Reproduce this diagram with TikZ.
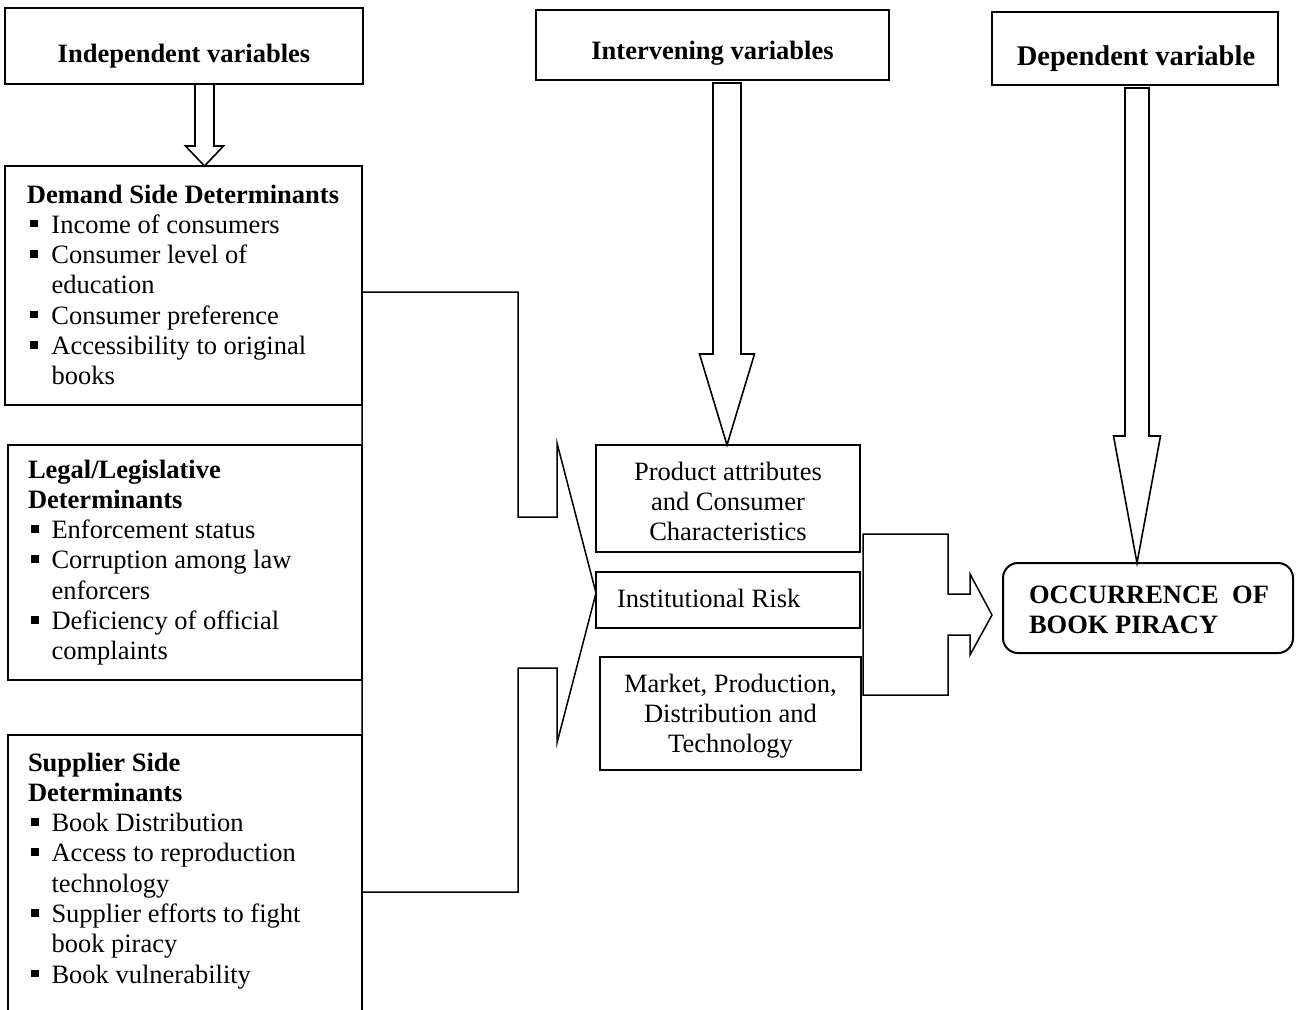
\documentclass[tikz,border=0pt]{standalone}
\usepackage{fontspec}
\setmainfont{Liberation Serif}
\usetikzlibrary{calc}
\newcommand\sqbul{\rule[6pt]{7.5pt}{7.5pt}}
\newcommand\hdr[1]{\multicolumn{2}{@{}l@{}}{\bfseries #1}}
\newcommand\downblock[5]{%
  \draw[blockarr] ($(#1)+(-#3,0)$) -- ($(#2)+(-#3,-#5)$) -- ($(#2)+(-#4,-#5)$) -- (#2)
    -- ($(#2)+(#4,-#5)$) -- ($(#2)+(#3,-#5)$) -- ($(#1)+(#3,0)$) -- cycle;}
\begin{document}
\begin{tikzpicture}[x=1pt,y=-1pt,
  box/.style={draw, line width=2pt, inner sep=0pt, outer sep=0pt},
  txt/.style={inner sep=0pt, outer sep=0pt, font=\fontsize{26.5}{30.3}\selectfont},
  btxt/.style={txt, font=\fontsize{26.5}{30.3}\selectfont\bfseries},
  blockarr/.style={draw, line width=1.6pt, line join=miter, fill=white},
  bracket/.style={draw, line width=1.5pt, line join=miter}]
\useasboundingbox (0,0) rectangle (1298,1009);
\clip (0,0) rectangle (1298,1009);

% boxes
\node[box, minimum width=358pt, minimum height=76pt] (indep) at (184,46) {};
\node[box, minimum width=357pt, minimum height=239pt] (demand) at (183.5,285.5) {};
\node[box, minimum width=354pt, minimum height=235pt] (legal) at (185,562.5) {};
\node[box, minimum width=354pt, minimum height=290pt] (supplier) at (185,880) {};
\node[box, minimum width=353pt, minimum height=70pt] (inter) at (712.5,45) {};
\node[box, minimum width=286pt, minimum height=73pt] (dep) at (1135,48.5) {};
\node[box, minimum width=264pt, minimum height=107pt] (product) at (728,498.5) {};
\node[box, minimum width=264pt, minimum height=56pt] (inst) at (728,600) {};
\node[box, minimum width=261pt, minimum height=113pt] (market) at (730.5,713.5) {};
\node[box, rounded corners=15pt, minimum width=290pt, minimum height=90pt] (occ) at (1148,608) {};

% texts
\node[btxt, anchor=base] (indepT) at (184,62) {Independent variables};
\node[btxt, anchor=base] (interT) at (712.5,59) {Intervening variables};
\node[txt, font=\fontsize{28.5}{32}\selectfont\bfseries, anchor=base] (depT) at (1136,65) {Dependent variable};

\node[txt, anchor=base west] (demandT) at (27,203) {\begin{tabular}[t]{@{\hspace{3pt}}l@{\hspace{14pt}}l@{}}
\hdr{Demand Side Determinants}\\
\sqbul & Income of consumers\\
\sqbul & Consumer level of\\
 & education\\
\sqbul & Consumer preference\\
\sqbul & Accessibility to original\\
 & books
\end{tabular}};

\node[txt, anchor=base west] (legalT) at (28,478) {\begin{tabular}[t]{@{\hspace{3pt}}l@{\hspace{13pt}}l@{}}
\hdr{Legal/Legislative}\\
\hdr{Determinants}\\
\sqbul & Enforcement status\\
\sqbul & Corruption among law\\
 & enforcers\\
\sqbul & Deficiency of official\\
 & complaints
\end{tabular}};

\node[txt, anchor=base west] (supplierT) at (28,771) {\begin{tabular}[t]{@{\hspace{3pt}}l@{\hspace{13pt}}l@{}}
\hdr{Supplier Side}\\
\hdr{Determinants}\\
\sqbul & Book Distribution\\
\sqbul & Access to reproduction\\
 & technology\\
\sqbul & Supplier efforts to fight\\
 & book piracy\\
\sqbul & Book vulnerability
\end{tabular}};

\node[txt, anchor=base] (productT) at (728,480) {\begin{tabular}[t]{@{}c@{}}
Product attributes\\ and Consumer\\ Characteristics\end{tabular}};
\node[txt, anchor=base west] (instT) at (617,607) {Institutional Risk};
\node[txt, anchor=base] (marketT) at (730.5,692) {\begin{tabular}[t]{@{}c@{}}
Market, Production,\\ Distribution and\\ Technology\end{tabular}};
\node[txt, anchor=base west] (occT) at (1029,603) {\begin{tabular}[t]{@{}l@{}}\bfseries
OCCURRENCE\ \ OF\\ \bfseries BOOK PIRACY\end{tabular}};

% block arrows
\path (indep.south) ++(20.5,0) coordinate (a1top);
\coordinate (a1tip) at (a1top |- demand.north);
\downblock{a1top}{a1tip}{9.5}{19}{20}

\path (inter.south) ++(14.5,3) coordinate (a2top);
\coordinate (a2tip) at (a2top |- product.north);
\downblock{a2top}{a2tip}{14}{27.5}{91}

\path (dep.south) ++(2,3) coordinate (a3top);
\coordinate (a3tip) at (a3top |- occ.north);
\downblock{a3top}{a3tip}{12}{23.5}{127}

% left bracket arrow
\coordinate (ltip) at ($(inst.west)+(0,-7)$);
\draw[bracket] (ltip -| demand.east) ++(0,-301) coordinate (lt)
  (lt) -- ($(ltip)+(-78,-301)$) -- ($(ltip)+(-78,-76)$) -- ($(ltip)+(-39,-76)$)
  -- ($(ltip)+(-39,-150)$) -- (ltip) -- ($(ltip)+(-39,150)$) -- ($(ltip)+(-39,75)$)
  -- ($(ltip)+(-78,75)$) -- ($(ltip)+(-78,299)$) -- ($(ltip -| demand.east)+(0,299)$) -- cycle;

% right bracket arrow
\coordinate (rtip) at ($(occ.west)+(-11,7)$);
\draw[bracket] ($(rtip)+(-129,-81)$) -- ($(rtip)+(-44,-81)$) -- ($(rtip)+(-44,-21)$)
  -- ($(rtip)+(-22,-21)$) -- ($(rtip)+(-22,-41)$) -- (rtip) -- ($(rtip)+(-22,40)$)
  -- ($(rtip)+(-22,20)$) -- ($(rtip)+(-44,20)$) -- ($(rtip)+(-44,80)$)
  -- ($(rtip)+(-129,80)$) -- cycle;
\end{tikzpicture}
\end{document}
